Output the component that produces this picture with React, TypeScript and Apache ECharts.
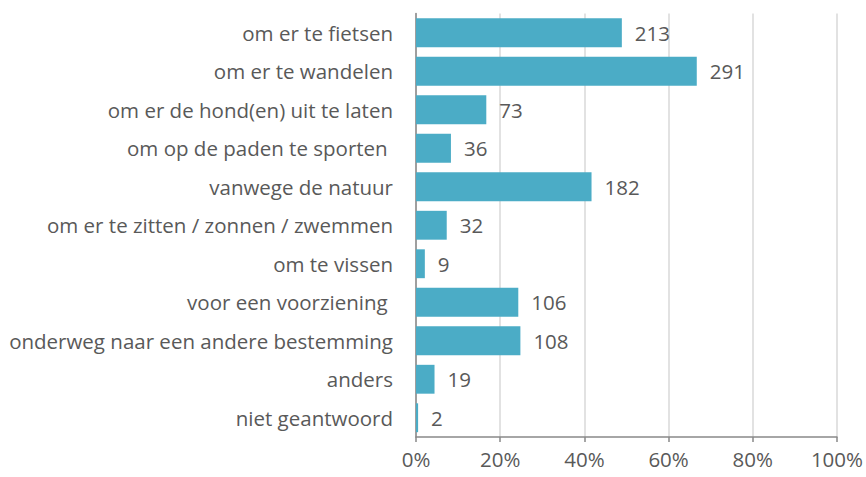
import React, { useEffect, useRef } from "react";
import * as echarts from "echarts";

const categories = [
  "om er te fietsen",
  "om er te wandelen",
  "om er de hond(en) uit te laten",
  "om op de paden te sporten ",
  "vanwege de natuur",
  "om er te zitten / zonnen / zwemmen",
  "om te vissen",
  "voor een voorziening ",
  "onderweg naar een andere bestemming",
  "anders",
  "niet geantwoord",
];
const counts = [213, 291, 73, 36, 182, 32, 9, 106, 108, 19, 2];
const percentages = [48.9, 66.7, 16.7, 8.3, 41.7, 7.3, 2.1, 24.3, 24.8, 4.4, 0.5];
const xTicks = [0, 20, 40, 60, 80, 100];

const FONT = "Open Sans";
const TEXT = "#595959";
const FS = 20.5;

export default function App() {
  const ref = useRef<HTMLDivElement>(null);
  useEffect(() => {
    if (!ref.current) return;
    document.body.style.margin = "0";
    const chart = echarts.init(ref.current, undefined, { renderer: "svg" });
    const data = percentages.map((p, i) => ({ value: p, count: counts[i] }));
    chart.setOption({
      animation: false,
      grid: { left: 416, right: 28, top: 13.5, bottom: 40, containLabel: false },
      xAxis: {
        type: "value",
        min: xTicks[0],
        max: xTicks[xTicks.length - 1],
        interval: 20,
        axisLine: { show: true, lineStyle: { color: "#898989", width: 1.5 } },
        axisTick: { show: true, length: 5, lineStyle: { color: "#898989", width: 1.5 } },
        splitLine: { show: true, lineStyle: { color: "#d9d9d9", width: 1.5 } },
        axisLabel: {
          formatter: (v: number) => v + "%",
          color: TEXT,
          fontFamily: FONT,
          fontSize: FS,
          margin: 11,
        },
      },
      yAxis: {
        type: "category",
        inverse: true,
        data: categories,
        axisLine: { show: true, lineStyle: { color: "#898989", width: 1.5 } },
        axisTick: { show: false },
        axisLabel: {
          color: TEXT,
          fontFamily: FONT,
          fontSize: FS,
          margin: 23,
        },
      },
      series: [
        {
          type: "bar",
          data,
          barCategoryGap: "25%",
          itemStyle: { color: "#4BACC6" },
          label: {
            show: true,
            position: "right",
            distance: 13,
            color: TEXT,
            fontFamily: FONT,
            fontSize: FS,
            formatter: (p: any) => String(p.data.count),
          },
        },
      ],
    });
    return () => chart.dispose();
  }, []);
  return <div ref={ref} style={{ width: 866, height: 477 }} />;
}
